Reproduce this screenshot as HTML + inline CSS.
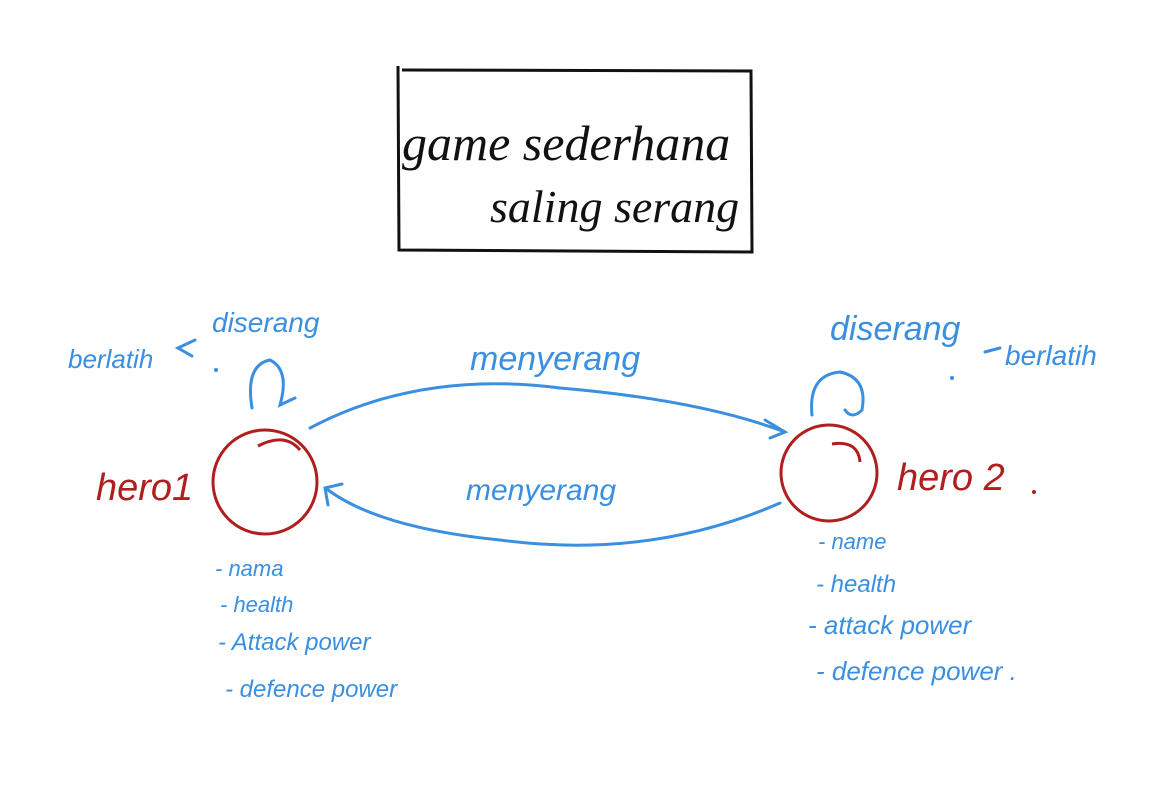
<!DOCTYPE html>
<html><head><meta charset="utf-8"><style>
html,body{margin:0;padding:0;background:#fff;}
svg{display:block;}
.b{fill:#3a8fe0;font-family:"Liberation Sans",sans-serif;font-style:italic;}
.r{fill:#b01e1e;font-family:"Liberation Sans",sans-serif;font-style:italic;}
.k{fill:#111;font-family:"Liberation Serif",serif;font-style:italic;}
</style></head><body>
<svg width="1172" height="803" viewBox="0 0 1172 803" xmlns="http://www.w3.org/2000/svg">
<rect width="1172" height="803" fill="#fff"/>
<path d="M398 66 L399 250 L752 252 L751 71 L402 70" fill="none" stroke="#111" stroke-width="3"/>
<text x="402" y="160" class="k" font-size="50">game sederhana</text>
<text x="490" y="222" class="k" font-size="46">saling serang</text>

<circle cx="265" cy="482" r="52" fill="none" stroke="#b01e1e" stroke-width="3"/>
<path d="M258 446 Q285 432 300 450" fill="none" stroke="#b01e1e" stroke-width="3"/>
<circle cx="829" cy="473" r="48" fill="none" stroke="#b01e1e" stroke-width="3"/>
<path d="M832 444 Q858 440 860 462" fill="none" stroke="#b01e1e" stroke-width="3"/>
<text x="96" y="500" class="r" font-size="38">hero1</text>
<text x="897" y="490" class="r" font-size="38">hero 2</text>
<circle cx="1034" cy="492" r="2" fill="#b01e1e"/>

<g fill="none" stroke="#3a8fe0" stroke-width="3" stroke-linecap="round">
<path d="M310 428 Q420 370 560 388 Q700 400 785 432"/>
<path d="M765 420 L785 432 L770 438"/>
<path d="M780 503 Q650 560 500 540 Q380 528 328 490"/>
<path d="M328 505 L325 488 L342 484"/>
<path d="M252 408 Q245 365 270 360 Q290 370 280 405 L295 398"/>
<path d="M812 415 Q808 375 840 372 Q868 378 862 410 Q852 420 845 410"/>
<path d="M195 340 L178 348 L192 356"/>
<path d="M985 352 L1000 348"/>
</g>
<text x="68" y="368" class="b" font-size="26">berlatih</text>
<text x="212" y="332" class="b" font-size="28">diserang</text>
<circle cx="216" cy="370" r="2" fill="#3a8fe0"/>
<text x="830" y="340" class="b" font-size="34">diserang</text>
<circle cx="952" cy="378" r="2" fill="#3a8fe0"/>
<text x="1005" y="365" class="b" font-size="28">berlatih</text>
<text x="470" y="370" class="b" font-size="34">menyerang</text>
<text x="466" y="500" class="b" font-size="30">menyerang</text>

<text x="215" y="576" class="b" font-size="22">- nama</text>
<text x="220" y="612" class="b" font-size="22">- health</text>
<text x="218" y="650" class="b" font-size="24">- Attack power</text>
<text x="225" y="697" class="b" font-size="24">- defence power</text>

<text x="818" y="549" class="b" font-size="22">- name</text>
<text x="816" y="592" class="b" font-size="24">- health</text>
<text x="808" y="634" class="b" font-size="26">- attack power</text>
<text x="816" y="680" class="b" font-size="26">- defence power .</text>
</svg>
</body></html>
